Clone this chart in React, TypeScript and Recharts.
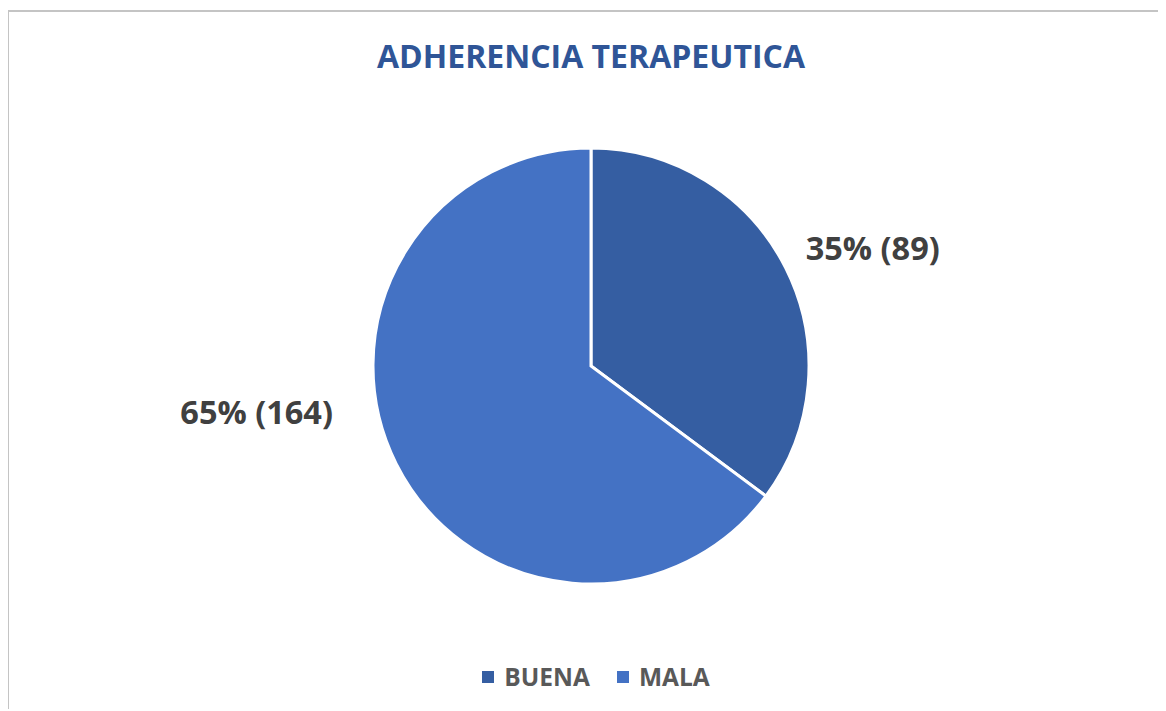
import React from 'react';
import { PieChart, Pie, Cell, Legend } from 'recharts';

const categories = ['BUENA', 'MALA'];
const counts = [89, 164];
const percents = [35, 65];

const COLORS = ['#355EA2', '#4472C4'];
// where Excel put each data label: angle (deg) and distance from the centre
const LABEL_ANGLES = [28.8, 190];
const LABEL_RADII = [245, 262];

const data = categories.map((name, i) => ({ name, value: counts[i], pct: percents[i] }));

const FONT = '"Open Sans", "Noto Sans", sans-serif';

const renderLabel = (props: any) => {
  const { cx, cy, index } = props;
  const a = (LABEL_ANGLES[index] * Math.PI) / 180;
  const r = LABEL_RADII[index];
  const x = cx + r * Math.cos(a);
  const y = cy - r * Math.sin(a);
  const right = Math.cos(a) >= 0;
  return (
    <text
      x={x}
      y={y}
      fill="#404040"
      textAnchor={right ? 'start' : 'end'}
      dominantBaseline="central"
      fontSize={32.5}
      fontWeight={700}
      fontFamily={FONT}
    >
      {`${data[index].pct}% (${data[index].value})`}
    </text>
  );
};

const renderLegend = () => (
  <div style={{ display: 'flex', justifyContent: 'center', gap: 27, fontFamily: FONT }}>
    {data.map((d, i) => (
      <div key={d.name} style={{ display: 'flex', alignItems: 'center', gap: 10 }}>
        <span style={{ width: 12, height: 12, background: COLORS[i], display: 'inline-block' }} />
        <span style={{ fontSize: 24.5, fontWeight: 700, color: '#595959' }}>{d.name}</span>
      </div>
    ))}
  </div>
);

export default function App() {
  return (
    <div style={{ position: 'relative', width: 1158, height: 701, background: '#fff' }}>
      {/* frame: only the top and left edges show in the original */}
      <div style={{ position: 'absolute', left: -1, top: 2, width: 1200, height: 2, background: '#c4c4c4' }} />
      <div style={{ position: 'absolute', left: -1, top: 2, width: 2, height: 720, background: '#c4c4c4' }} />
      <div
        style={{
          position: 'absolute',
          top: 26,
          left: 0,
          width: 1166,
          textAlign: 'center',
          fontFamily: FONT,
          fontWeight: 700,
          fontSize: 32,
          color: '#2F5597',
        }}
      >
        ADHERENCIA TERAPEUTICA
      </div>
      <PieChart width={1158} height={699} style={{ position: 'absolute', top: 4, left: 0 }}>
        <Pie
          data={data}
          dataKey="value"
          nameKey="name"
          cx={578}
          cy={349}
          outerRadius={218}
          startAngle={90}
          endAngle={-270}
          stroke="#ffffff"
          strokeWidth={3}
          label={renderLabel}
          labelLine={false}
          isAnimationActive={false}
        >
          {data.map((d, i) => (
            <Cell key={d.name} fill={COLORS[i]} />
          ))}
        </Pie>
        <Legend
          content={renderLegend}
          verticalAlign="bottom"
          wrapperStyle={{ left: 14, bottom: 18 }}
        />
      </PieChart>
    </div>
  );
}
